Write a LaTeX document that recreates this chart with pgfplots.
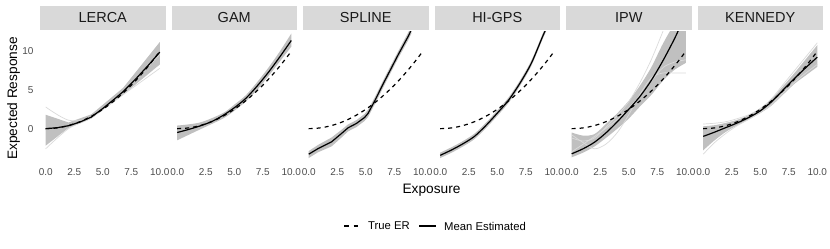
\documentclass[border=0pt]{standalone}
\usepackage{fontspec}
\setmainfont{Liberation Sans}
\usepackage{pgfplots}
\pgfplotsset{compat=1.18}
\usepgfplotslibrary{fillbetween}
\definecolor{stripgrey}{RGB}{217,217,217}
\definecolor{striptext}{RGB}{26,26,26}
\definecolor{tickgrey}{RGB}{77,77,77}
\definecolor{bandgrey}{RGB}{192,192,192}
\definecolor{lightgrey}{RGB}{218,218,218}
\pgfplotsset{
  panel/.style={
    scale only axis, width=125.5pt, height=133pt,
    anchor=south west,
    xmin=-0.5, xmax=10.5, ymin=-4.7, ymax=12.5,
    axis line style={draw=none},
    major tick length=0pt,
    xtick={0,2.5,5,7.5,10},
    xticklabels={0.0,2.5,5.0,7.5,10.0},
    ytick={0,5,10},
    yticklabels={},
    tick label style={font=\fontsize{10}{11}\selectfont, text=tickgrey},
    every axis title/.style={at={(0.5,1)}, anchor=south, yshift=2pt,
      fill=stripgrey, minimum width=125.5pt, minimum height=24pt,
      inner sep=0pt, text=striptext, font=\fontsize{14.5}{15}\selectfont},
  },
  band/.style={draw=none, fill=bandgrey},
  light/.style={lightgrey, line width=0.7pt, smooth},
  mean/.style={black, line width=1.2pt},
  truer/.style={black, line width=1.2pt, dash pattern=on 4pt off 4pt, smooth},
}
\newcommand{\trueer}{\addplot[truer] coordinates {(0,0) (0.5,0.025) (1,0.1) (1.5,0.225) (2,0.4) (2.5,0.625) (3,0.9) (3.5,1.225) (4,1.6) (4.5,2.025) (5,2.5) (5.5,3.025) (6,3.6) (6.5,4.225) (7,4.9) (7.5,5.625) (8,6.4) (8.5,7.225) (9,8.1) (9.5,9.025) (10,10)};}
\begin{document}
\begin{tikzpicture}

% LERCA
\begin{axis}[panel, at={(40pt,84pt)}, title={LERCA}, yticklabels={0,5,10},
  yticklabel style={xshift=-3pt}]
\addplot[light] coordinates {(0,2.8) (2,1.1) (4,1.5) (6.8,4.8) (10,9.6)};
\addplot[light] coordinates {(0,-2.6) (2,0.0) (4,1.4) (6.8,4.4) (10,7.8)};
\addplot[name path=ua, draw=none] coordinates {(0,1.8) (2,0.8) (4,1.85) (6.8,5.3) (10,11.2)};
\addplot[name path=la, draw=none] coordinates {(0,-2.2) (2,0.1) (4,1.3) (6.8,4.4) (10,8.3)};
\addplot[band] fill between[of=ua and la];
\trueer
\addplot[mean] coordinates {(0,0) (1,0.12) (2,0.38) (3,0.85) (4,1.5) (5,2.6) (6,3.8) (6.8,4.8) (8,6.6) (9,8.2) (10,9.9)};
\end{axis}

% GAM
\begin{axis}[panel, at={(171.5pt,84pt)}, title={GAM}]
\addplot[name path=ub, draw=none, smooth] coordinates {(0,0.4) (2,0.8) (4,2.0) (5,3.1) (6,4.3) (7,6.0) (8,7.9) (9,10.0) (10,12.3)};
\addplot[name path=lb, draw=none, smooth] coordinates {(0,-1.5) (2,-0.1) (4,1.3) (5,2.3) (6,3.5) (7,5.0) (8,6.8) (9,8.7) (10,10.6)};
\addplot[band] fill between[of=ub and lb];
\trueer
\addplot[mean, smooth] coordinates {(0,-0.5) (1,-0.1) (2,0.35) (3,0.9) (4,1.7) (5,2.7) (6,3.9) (7,5.5) (8,7.3) (9,9.3) (10,11.4)};
\end{axis}

% SPLINE
\begin{axis}[panel, at={(303pt,84pt)}, title={SPLINE}]
\addplot[name path=uc, draw=none] coordinates {(0,-2.9) (0.82,-2.1) (2.0,-1.15) (2.87,-0.15) (3.45,0.55) (4.18,1.1) (4.9,1.9) (5.2,2.45) (5.79,4.05) (6.67,6.65) (7.84,10.0) (8.71,12.4) (9,13.3)};
\addplot[name path=lc, draw=none] coordinates {(0,-3.8) (0.82,-3.05) (2.0,-2.3) (2.87,-1.15) (3.45,-0.35) (4.18,0.2) (4.9,1.0) (5.2,1.5) (5.79,3.15) (6.67,5.75) (7.84,9.1) (8.71,11.4) (9,12.3)};
\addplot[band] fill between[of=uc and lc];
\trueer
\addplot[mean] coordinates {(0,-3.3) (0.82,-2.58) (2.0,-1.71) (2.87,-0.63) (3.45,0.11) (4.18,0.67) (4.9,1.45) (5.2,1.97) (5.79,3.6) (6.67,6.2) (7.84,9.55) (8.71,11.9) (9,12.8)};
\end{axis}

% HI-GPS
\begin{axis}[panel, at={(434.5pt,84pt)}, title={HI-GPS}]
\addplot[name path=ud, draw=none, smooth] coordinates {(0,-3.1) (1,-2.4) (2,-1.6) (3,-0.65) (4,0.75) (5,2.35) (6,4.05) (7,6.25) (8,8.85) (9,12.35) (9.5,14)};
\addplot[name path=ld, draw=none, smooth] coordinates {(0,-3.8) (1,-3.1) (2,-2.3) (3,-1.35) (4,0.05) (5,1.65) (6,3.35) (7,5.55) (8,8.15) (9,11.65) (9.5,13.3)};
\addplot[band] fill between[of=ud and ld];
\trueer
\addplot[mean, smooth] coordinates {(0,-3.45) (1,-2.75) (2,-1.95) (3,-1.0) (4,0.4) (5,2.0) (6,3.7) (7,5.9) (8,8.5) (9,12.0) (9.5,13.6)};
\end{axis}

% IPW
\begin{axis}[panel, at={(566pt,84pt)}, title={IPW}]
\addplot[light] coordinates {(0,-0.8) (1,-1.8) (2,-2.6) (3,-2.0) (4,-0.5) (5,1.8) (6,4.5) (7,6.6) (8,7.2) (9,7.2) (10,7.2)};
\addplot[light] coordinates {(0,-1.2) (1,-1.6) (2,-1.2) (3,0.2) (4,1.7) (5,3.5) (6,6.0) (7,9.0) (8,12.6)};
\addplot[light] coordinates {(0,-3.0) (2,-1.0) (4,1.2) (6,4.3) (7,6.2) (8,7.9) (9,8.6) (10,8.9)};
\addplot[name path=ue, draw=none, smooth] coordinates {(0,-0.5) (1,-0.9) (2,-0.7) (3,0.6) (4,2.0) (5,3.6) (6,5.6) (7,8.0) (8,11.0) (9,13.5) (10,15)};
\addplot[name path=le, draw=none, smooth] coordinates {(0,-3.7) (1,-3.1) (2,-2.3) (3,-1.2) (4,0.0) (5,1.3) (6,2.9) (7,4.4) (8,6.2) (9,7.6) (10,8.5)};
\addplot[band] fill between[of=ue and le];
\trueer
\addplot[mean, smooth] coordinates {(0,-3.25) (1,-2.6) (2,-1.75) (3,-0.55) (4,0.9) (5,2.5) (6,4.2) (7,6.3) (8,8.8) (9,11.6) (9.5,13.2)};
\end{axis}

% KENNEDY
\begin{axis}[panel, at={(697.5pt,84pt)}, title={KENNEDY}]
\addplot[light] coordinates {(0,-3.3) (1,-1.8) (2,-0.6) (3,0.4) (4,1.2) (5,2.1) (6,3.1) (7,4.6) (8,6.0) (9,7.2) (10,8.3)};
\addplot[light] coordinates {(0,0.6) (1,0.7) (2,0.9) (3,1.3) (4,1.8) (5,2.6) (6,3.9) (7,5.7) (8,7.5) (9,9.3) (10,11.1)};
\addplot[name path=uf, draw=none, smooth] coordinates {(0,0.3) (1,0.45) (2,0.75) (3,1.15) (4,1.75) (5,2.65) (6,3.85) (7,5.5) (8,7.2) (9,9.0) (10,10.8)};
\addplot[name path=lf, draw=none, smooth] coordinates {(0,-2.8) (1,-1.5) (2,-0.4) (3,0.45) (4,1.2) (5,2.0) (6,3.0) (7,4.4) (8,5.8) (9,6.9) (10,8.0)};
\addplot[band] fill between[of=uf and lf];
\trueer
\addplot[mean, smooth] coordinates {(0,-1.0) (1,-0.45) (2,0.15) (3,0.75) (4,1.45) (5,2.3) (6,3.5) (7,5.0) (8,6.5) (9,7.9) (10,9.25)};
\end{axis}

% axis titles
\node[font=\fontsize{13.7}{14}\selectfont] at (431.5pt,59pt) {Exposure};
\node[font=\fontsize{13.7}{14}\selectfont, rotate=90] at (13.5pt,150.5pt) {Expected Response};

% legend
\draw[black, line width=1.2pt, dash pattern=on 4.5pt off 5pt] (344pt,23pt) -- (359pt,23pt);
\node[anchor=west, inner sep=0pt, font=\fontsize{11.3}{12}\selectfont] at (368pt,23pt) {True ER};
\draw[black, line width=1.2pt] (419pt,23pt) -- (436pt,23pt);
\node[anchor=west, inner sep=0pt, font=\fontsize{11.3}{12}\selectfont] at (444pt,23pt) {Mean Estimated};

\pgfresetboundingbox
\path[use as bounding box] (0pt,0pt) rectangle (830pt,249pt);
\end{tikzpicture}
\end{document}
